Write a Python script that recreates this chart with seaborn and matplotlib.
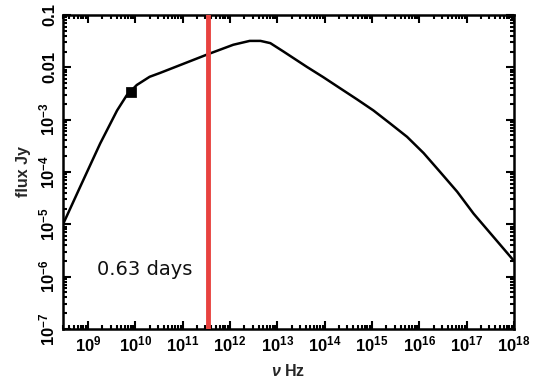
import matplotlib
matplotlib.use("Agg")
import matplotlib.pyplot as plt
import matplotlib.ticker as mticker
from matplotlib import font_manager
import seaborn as sns
import pandas as pd
import numpy as np

# data
nu = [2.95e8, 6.8e8, 1.8e9, 4.1e9, 6.6e9, 1.07e10, 2.0e10, 3.3e10, 3.4e11,
      1.17e12, 2.6e12, 4.4e12, 7.1e12, 1.35e13, 4.2e13, 9.3e13, 2.1e14, 4.8e14,
      1.07e15, 2.4e15, 5.5e15, 1.23e16, 2.75e16, 6.3e16, 1.4e17, 1.0e18]
flux = [1.0e-5, 5.2e-5, 3.5e-4, 1.5e-3, 2.95e-3, 4.6e-3, 6.6e-3, 7.8e-3, 1.78e-2,
        2.7e-2, 3.2e-2, 3.2e-2, 2.9e-2, 2.0e-2, 1.02e-2, 6.5e-3, 4.0e-3, 2.45e-3,
        1.5e-3, 8.5e-4, 4.7e-4, 2.3e-4, 1.0e-4, 4.2e-5, 1.6e-5, 2.0e-6]
obs_nu = [8.1e9]
obs_flux = [3.4e-3]
red_nu = 3.4e11
label_text = "0.63 days"
xtick_vals = [1e9, 1e10, 1e11, 1e12, 1e13, 1e14, 1e15, 1e16, 1e17, 1e18]
xtick_labels = [r"$\mathbf{10^{%d}}$" % e for e in range(9, 19)]
ytick_vals = [1e-7, 1e-6, 1e-5, 1e-4, 1e-3, 1e-2, 1e-1]
ytick_labels = [r"$\mathbf{10^{-7}}$", r"$\mathbf{10^{-6}}$", r"$\mathbf{10^{-5}}$",
                r"$\mathbf{10^{-4}}$", r"$\mathbf{10^{-3}}$", "0.01", "0.1"]

sns.set_style("ticks")
available = {f.name for f in font_manager.fontManager.ttflist}
narrow = next((f for f in ["Liberation Sans Narrow", "DejaVu Sans Condensed",
                           "Liberation Sans"] if f in available), "DejaVu Sans")
plt.rcParams['font.family'] = [narrow, 'DejaVu Sans']
plt.rcParams['mathtext.fontset'] = 'custom'
plt.rcParams['mathtext.rm'] = narrow
plt.rcParams['mathtext.bf'] = narrow + ':bold'
plt.rcParams['mathtext.it'] = narrow + ':italic'
plt.rcParams['mathtext.bfit'] = narrow + ':italic:bold'

fig = plt.figure(figsize=(5.39, 3.80), dpi=100)
ax = fig.add_axes([63/539, 1-329/380, (514-63)/539, (329-15)/380])

df = pd.DataFrame({"nu": nu, "flux": flux})
sns.lineplot(data=df, x="nu", y="flux", ax=ax, color="black", lw=1.8,
             estimator=None, sort=False, solid_joinstyle="round")
sns.scatterplot(x=obs_nu, y=obs_flux, ax=ax, marker="s", s=45, color="black",
                edgecolor="black", zorder=5)
ax.axvline(red_nu, color="#e8423f", lw=3.5, zorder=4)

ax.set_xscale("log")
ax.set_yscale("log")
ax.set_xlim(10**8.47, 1e18)
ax.set_ylim(1e-7, 0.1)

ax.set_xticks(xtick_vals)
ax.set_xticklabels(xtick_labels, fontsize=12, fontweight="bold")
ax.set_yticks(ytick_vals)
ax.set_yticklabels(ytick_labels, fontsize=12, fontweight="bold", rotation=90,
                   va="center")
ax.xaxis.set_minor_locator(mticker.LogLocator(base=10, subs=np.arange(2, 10), numticks=30))
ax.yaxis.set_minor_locator(mticker.LogLocator(base=10, subs=np.arange(2, 10), numticks=30))
ax.xaxis.set_minor_formatter(mticker.NullFormatter())
ax.yaxis.set_minor_formatter(mticker.NullFormatter())

ax.tick_params(which="both", direction="in", top=True, right=True, width=1.5,
               colors="black")
ax.tick_params(which="major", length=6, pad=4)
ax.tick_params(which="minor", length=3)
for s in ax.spines.values():
    s.set_linewidth(1.8)
    s.set_color("black")

ax.set_xlabel(r"$\boldsymbol{\nu}$ Hz", fontsize=11.5, fontweight="bold", labelpad=6)
ax.set_ylabel("flux Jy", fontsize=11.5, fontweight="bold", labelpad=5)

ax.text(0.075, 0.19, label_text, transform=ax.transAxes, fontsize=14,
        ha="left", va="center", color="#111111", family="DejaVu Sans")

fig.savefig("out.png", dpi=100)
